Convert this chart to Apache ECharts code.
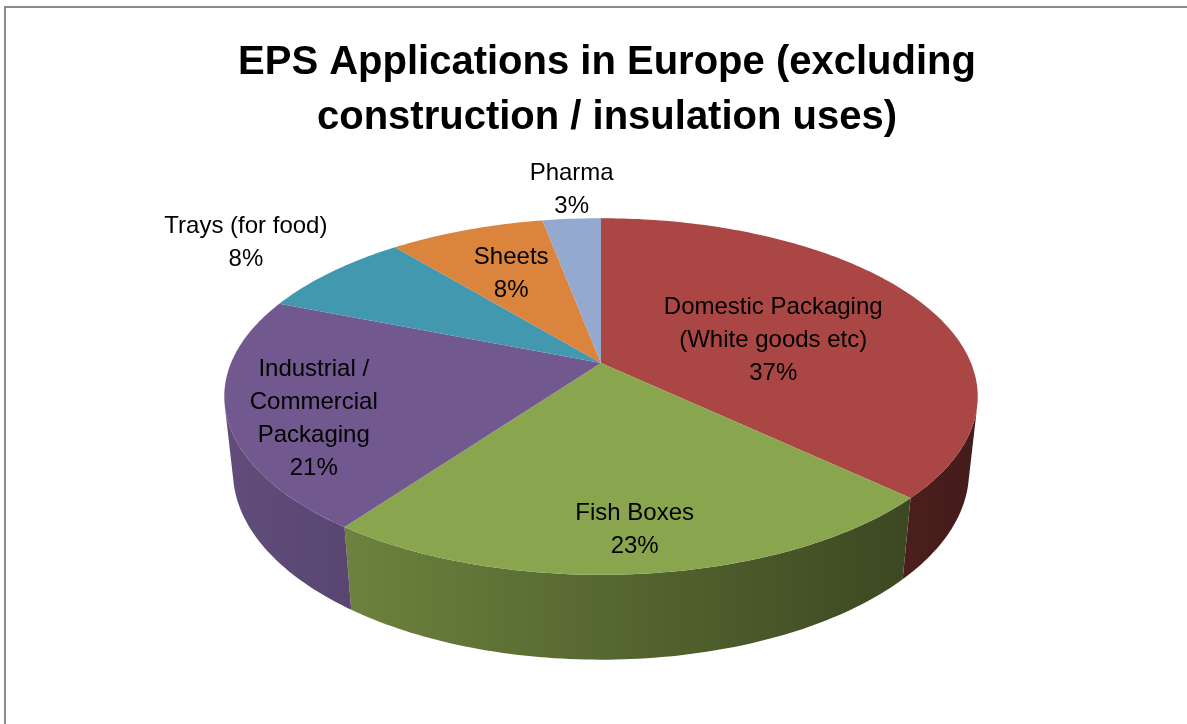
<!DOCTYPE html>
<html>
<head>
<meta charset="utf-8">
<title>EPS Applications in Europe</title>
<script src="https://cdn.jsdelivr.net/npm/echarts@6/dist/echarts.min.js"></script>
<style>
  html, body { margin: 0; padding: 0; background: #fff; }
  #main { width: 1187px; height: 724px; }
</style>
</head>
<body>
<div id="main"></div>
<script>
// values (percent of total)
var categories = ['Domestic Packaging\n(White goods etc)', 'Fish Boxes', 'Industrial /\nCommercial\nPackaging', 'Trays (for food)', 'Sheets', 'Pharma'];
var shares = [37, 23, 21, 8, 8, 3];

var colors = ['#AA4643', '#89A54E', '#71588F', '#4198AF', '#DB843D', '#93A9CF'];
var outsideLabels = [3, 5]; // these two sit outside the pie in the original
// excel's own label placement is a bit off the piece centre, nudge to match (px)
var labelNudge = [[-24, -16], [10, -4], [-46, -4], [0, 0], [0, -1], [0, 0]];
var labelFont = 'Liberation Sans, Arial, sans-serif';
var labelSize = 24;

// 3d look: apex on screen, projected radius, tilt (deg), camera distance, thickness
var view = { cx: 601, cy: 363, scale: 370, tilt: 27.7, dist: 4.71, depth: 0.231 };

var sinT = Math.sin(view.tilt * Math.PI / 180)
var cosT = Math.cos(view.tilt * Math.PI / 180)
var focal = view.scale * view.dist

// angle 0 = back of the pie (top on screen), clockwise
function project(theta, r, h) {
  var x = r * Math.sin(theta)
  var y = r * Math.cos(theta)
  var d = view.dist + y * cosT - h * sinT
  var up = y * sinT + h * cosT
  return [view.cx + focal * x / d, view.cy - focal * up / d]
}

var total = shares.reduce(function (a, b) { return a + b }, 0)
var startAngles = []
var acc = 0
shares.forEach(function (v) {
  startAngles.push(acc / total * Math.PI * 2)
  acc += v
})

// part of the outer wall that faces the camera
var wallFrom = Math.acos(-1 / (view.dist * cosT))
var wallTo = Math.PI * 2 - wallFrom

function shade(hex, f) {
  var n = parseInt(hex.slice(1), 16)
  var r = Math.round(((n >> 16) & 255) * f)
  var g = Math.round(((n >> 8) & 255) * f)
  var b = Math.round((n & 255) * f)
  return 'rgb(' + r + ',' + g + ',' + b + ')'
}

function arc(a0, a1, h) {
  var pts = []
  var n = Math.max(2, Math.ceil((a1 - a0) / (Math.PI / 180)))
  for (var k = 0; k <= n; k++) {
    pts.push(project(a0 + (a1 - a0) * k / n, 1, h))
  }
  return pts
}

// area + centroid of a polygon (shoelace)
function centroid(pts) {
  var a = 0, x = 0, y = 0
  for (var k = 0; k < pts.length; k++) {
    var p = pts[k], q = pts[(k + 1) % pts.length]
    var c = p[0] * q[1] - q[0] * p[1]
    a += c
    x += (p[0] + q[0]) * c
    y += (p[1] + q[1]) * c
  }
  return { area: Math.abs(a / 2), x: x / (3 * a), y: y / (3 * a) }
}

var measureCtx = document.createElement('canvas').getContext('2d')
function textWidth(text, size) {
  measureCtx.font = size + 'px ' + labelFont
  return Math.max.apply(null, text.split('\n').map(function (s) { return measureCtx.measureText(s).width }))
}

function renderSlice(params, api) {
  var i = params.dataIndex
  var a0 = startAngles[i]
  var a1 = a0 + api.value(0) / total * Math.PI * 2
  var top = [project(0, 0, 0)].concat(arc(a0, a1, 0))
  var children = [{
    type: 'polygon',
    shape: { points: top },
    style: { fill: colors[i] },
    z2: 2
  }]
  var parts = [centroid(top)]

  var w0 = Math.max(a0, wallFrom)
  var w1 = Math.min(a1, wallTo)
  if (w1 > w0) {
    var wall = arc(w0, w1, 0).concat(arc(w0, w1, -view.depth).reverse())
    parts.push(centroid(wall))
    children.push({
      type: 'polygon',
      shape: { points: wall },
      style: {
        fill: new echarts.graphic.LinearGradient(view.cx - view.scale, 0, view.cx + view.scale, 0, [
          { offset: 0, color: shade(colors[i], 0.86) },
          { offset: 1, color: shade(colors[i], 0.4) }
        ], true)
      },
      z2: 1
    })
  }

  var text = categories[i] + '\n' + Math.round(api.value(0) / total * 100) + '%'
  var lx, ly, vAlign = 'middle'
  if (outsideLabels.indexOf(i) >= 0) {
    var mid = (a0 + a1) / 2
    var edge = project(mid, 1, 0)
    var w = textWidth(text, labelSize)
    var s = Math.sin(mid)
    lx = Math.abs(s) < 0.3 ? edge[0] : edge[0] + (s < 0 ? -1 : 1) * (4 + w / 2)
    ly = edge[1] + 4
    vAlign = 'bottom'
  } else {
    // centre of the visible piece (top face + wall)
    var sa = 0, sx = 0, sy = 0
    parts.forEach(function (p) { sa += p.area; sx += p.x * p.area; sy += p.y * p.area })
    lx = sx / sa
    ly = sy / sa
  }
  lx += labelNudge[i][0]
  ly += labelNudge[i][1]
  children.push({
    type: 'text',
    style: {
      text: text,
      x: lx,
      y: ly,
      fill: '#000',
      fontSize: labelSize,
      fontFamily: labelFont,
      lineHeight: 33,
      align: 'center',
      verticalAlign: vAlign
    },
    z2: 10
  })
  return { type: 'group', children: children }
}

var chart = echarts.init(document.getElementById('main'))
var option = {
  backgroundColor: '#fff',
  animation: false,
  title: {
    text: 'EPS Applications in Europe (excluding\nconstruction / insulation uses)',
    left: 602,
    top: 30,
    textAlign: 'center',
    textStyle: {
      color: '#000',
      fontFamily: labelFont,
      fontWeight: 'bold',
      fontSize: 40,
      lineHeight: 55
    }
  },
  graphic: [{
    type: 'polyline',
    shape: { points: [[5, 724], [5, 7], [1187, 7]] },
    style: { stroke: '#8c8c8c', lineWidth: 2, fill: null }
  }],
  series: [{
    type: 'custom',
    coordinateSystem: 'none',
    renderItem: renderSlice,
    data: shares.map(function (v, i) {
      return { name: categories[i], value: v }
    })
  }]
}
chart.setOption(option)
</script>
</body>
</html>
